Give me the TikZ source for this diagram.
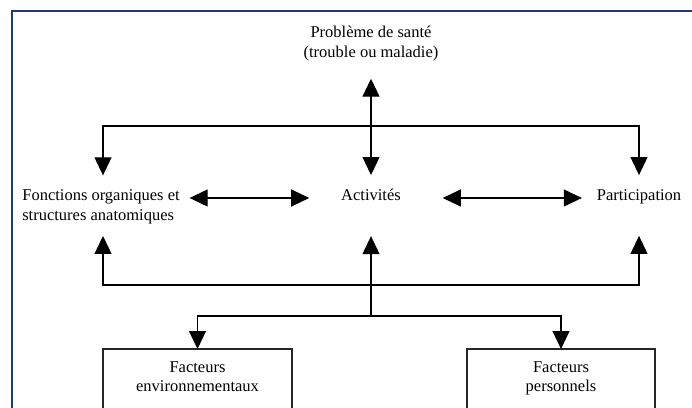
\documentclass[tikz,border=0pt]{standalone}
\usepackage{fontspec}
\setmainfont{Liberation Serif}
\usepackage{xcolor}
\usepackage{tikz}
\usetikzlibrary{arrows.meta,calc,positioning}

\definecolor{frameBlue}{RGB}{33,58,122}

\begin{document}
\begin{tikzpicture}[x=1pt,y=1pt]

\tikzset{txtNode/.style={inner sep=0pt, outer sep=0pt, align=center, font=\fontsize{16.5}{19.5}\selectfont},
boxNode/.style={txtNode, draw=black!85, line width=1.2pt, minimum width=#1, inner ysep=12.5pt, text depth=60pt, anchor=north},
%default width of the two boxes at the bottom
boxNode/.default={189pt},
link/.style={line width=1.1pt},
linkArrow/.style={link, -{Triangle[length=18pt,width=17pt]}},
bothArrow/.style={link, {Triangle[length=18pt,width=17pt]}-{Triangle[length=18pt,width=17pt]}}}

\clip (0,0) rectangle (692,407);

%the frame round the figure
\draw[frameBlue, line width=2pt] (11.5,-5) |- (700,396);

\node[txtNode] (health) at (371,363.5) {Problème de santé\\(trouble ou maladie)};
\node[txtNode, align=left] (func) at (101,200) {Fonctions organiques et\\structures anatomiques};
\node[txtNode, anchor=base] (act) at (371,206) {Activités};
\node[txtNode, anchor=base] (part) at (639,206) {Participation};

\node[boxNode] (env) at (197.5,58) {Facteurs\\environnementaux};
\node[boxNode=188pt] (pers) at (561,58) {Facteurs\\personnels};

\coordinate (topL) at (103,281);
\coordinate (topR) at (639,281);
\coordinate (lowL) at (103,122);
\coordinate (lowR) at (639,122);
\coordinate (forkL) at (197.5,91);
\coordinate (forkC) at (371,91);
\coordinate (forkR) at (561,91);
\coordinate (row) at (0,209);

%upper bus
\draw[bothArrow, shorten <=18pt, shorten >=14.5pt] (health.south) -- (act.north);
\draw[linkArrow, shorten >=14.7pt] (topR) -- (topL) -- (topL |- func.north);
\draw[linkArrow, shorten >=15pt] (topL) -- (topR) -- (part.north);

%the middle row
\draw[bothArrow, shorten <=10pt, shorten >=32pt] (func.east |- row) -- (act.west |- row);
\draw[bothArrow, shorten <=42pt, shorten >=15pt] (act.east |- row) -- (part.west |- row);

%lower bus
\draw[linkArrow, shorten >=12pt] (lowR) -- (lowL) -- (lowL |- func.south);
\draw[linkArrow, shorten >=31.4pt] (lowL) -- (lowR) -- (part.south);
\draw[linkArrow, shorten >=35pt] (forkC) -- (act.south);

%the two factors
\draw[linkArrow] (forkR) -- (forkL) -- (env.north);
\draw[linkArrow] (forkL) -- (forkR) -- (pers.north);

\end{tikzpicture}
\end{document}
